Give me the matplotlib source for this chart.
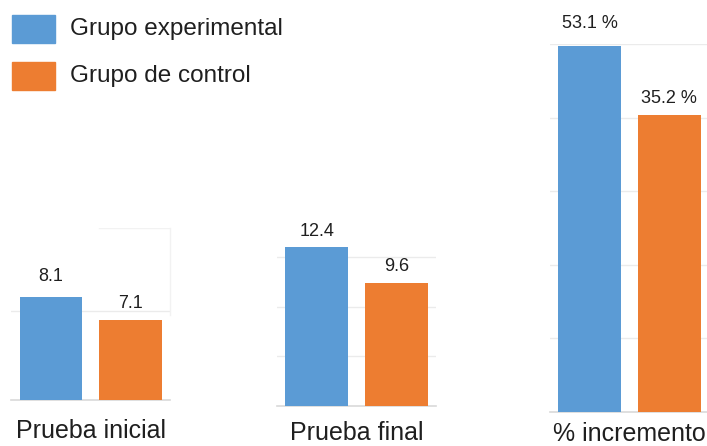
import numpy as np
import matplotlib
matplotlib.use('Agg')
import matplotlib.pyplot as plt
from matplotlib.patches import Rectangle

plt.rcParams['font.family'] = ['Liberation Sans', 'DejaVu Sans']

groups = ['Prueba inicial', 'Prueba final', '% incremento']
series = ['Grupo experimental', 'Grupo de control']
experimental = [8.1, 12.4, 53.1]
control = [7.1, 9.6, 35.2]
value_formats = ['{}', '{}', '{} %']

colors = ['#5b9bd5', '#ed7d31']
text_color = '#1f1f1f'
grid_color = '#ebebeb'

W, H = 707, 446
fig = plt.figure(figsize=(W / 100, H / 100), dpi=100)

# each panel has its own scale: (left px, top px, bottom px, ylim)
panels = [
    (11.25, 228, 400, (3.67, 11.05)),
    (277, 200, 406, (0.0, 16.02)),
    (550, 44, 412, (-41.5, 53.6)),
]
grid_levels = [
    [7.5],
    [3.85, 7.7, 11.55],
    list(np.linspace(-41.5, 53.6, 6)[1:]),
]
label_gaps = [(12, 8), (7, 8), (14, 8)]
cat_gaps = [31, 27, 22]
panel_w = 159


def px_axes(left, top, bottom):
    return fig.add_axes([left / W, 1 - bottom / H, panel_w / W, (bottom - top) / H])


for i, (left, top, bottom, ylim) in enumerate(panels):
    ax = px_axes(left, top, bottom)
    ax.set_xlim(-0.5, 1.5)
    ax.set_ylim(*ylim)
    ylo = ylim[0]

    for level in grid_levels[i]:
        ax.axhline(level, color=grid_color, lw=1, zorder=0)
    ax.axhline(ylo, color='#d9d9d9', lw=1.2, zorder=0, clip_on=False)

    vals = [experimental[i], control[i]]
    for j, v in enumerate(vals):
        ax.bar(j, v - ylo, bottom=ylo, width=0.79, color=colors[j], zorder=2)
        ax.annotate(value_formats[i].format(v), (j, v),
                    xytext=(0, label_gaps[i][j]), textcoords='offset pixels',
                    ha='center', va='bottom', fontsize=13, color=text_color,
                    annotation_clip=False)

    ax.annotate(groups[i], (0.5, ylo), xytext=(0, -cat_gaps[i]),
                textcoords='offset pixels', ha='center', va='center',
                fontsize=18, color=text_color, annotation_clip=False)

    if i == 0:
        # faint frame left over at the top right of the first panel
        ax.axhline(ylim[1], xmin=0.55, xmax=1.0, color='#f2f2f2', lw=1, zorder=0)
        ax.plot([1.5, 1.5], [ylim[1], 7.3], color='#f2f2f2', lw=1, zorder=0,
                clip_on=False)

    ax.set_axis_off()

# legend
legend_rows = [29, 76]
for name, color, yc in zip(series, colors, legend_rows):
    fig.patches.append(Rectangle((12 / W, 1 - (yc + 14) / H), 43 / W, 28 / H,
                                 transform=fig.transFigure, color=color))
    fig.text(70 / W, 1 - yc / H, name, ha='left', va='center',
             fontsize=17.5, color=text_color)

fig.savefig('out.png', dpi=100)
